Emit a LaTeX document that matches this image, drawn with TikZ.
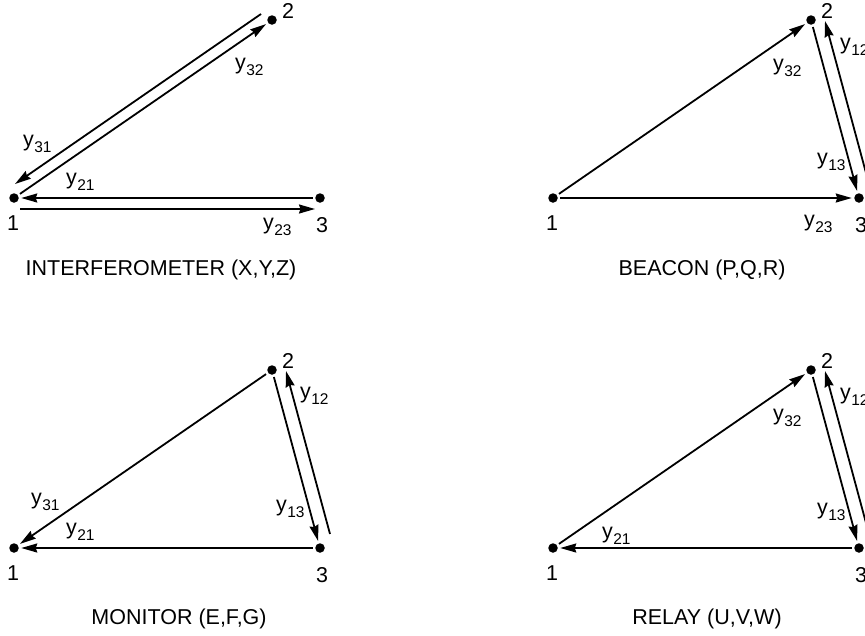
\documentclass[tikz,border=0pt]{standalone}
\usepackage{fontspec}
\setmainfont{Liberation Sans}
\usetikzlibrary{arrows.meta}
\newcommand\ysub[1]{y\kern0.3pt\raisebox{-6.5pt}{\fontsize{15.5}{15.5}\selectfont #1}}
\tikzset{
  dotnode/.style={circle, fill=black, inner sep=0pt, minimum size=9.5pt, outer sep=2.5pt},
  conn/.style={line width=1.8pt, -{Stealth[length=16pt,width=9pt,inset=1.5pt]}},
  lab/.style={anchor=base west, inner sep=0pt, font=\fontsize{21.5}{25}\selectfont},
  num/.style={inner sep=0pt, font=\fontsize{21.5}{25}\selectfont},
  ttl/.style={anchor=base, inner sep=0pt, font=\fontsize{21.5}{25}\selectfont},
}
\begin{document}
\begin{tikzpicture}[x=1pt, y=-1pt]
\useasboundingbox (0,0) rectangle (865,635);
\clip (0,0) rectangle (865,635);

% ---------- INTERFEROMETER ----------
\begin{scope}[shift={(14,198)}]
  \node[dotnode] (a1) at (0,0) {};
  \node[dotnode] (a2) at (258,-178) {};
  \node[dotnode] (a3) at (306,0) {};
  \node[num] (a1t) at (-1,25) {1};
  \node[num] (a2t) at (274,-187) {2};
  \node[num] (a3t) at (308,27) {3};
  \coordinate (a31s) at (247,-184);
  \coordinate (a31e) at (1,-14);
  \coordinate (a23s) at (6,11);
  \coordinate (a23e) at (301,11);
  \draw[conn] (a31s) -- (a31e);
  \draw[conn] (a1) -- (a2);
  \draw[conn] (a3) -- (a1);
  \draw[conn] (a23s) -- (a23e);
  \node[lab] (a31l) at (9,-52) {\ysub{31}};
  \node[lab] (a21l) at (52,-14) {\ysub{21}};
  \node[lab] (a32l) at (221,-129) {\ysub{32}};
  \node[lab] (a23l) at (249,31) {\ysub{23}};
  \node[ttl] (at) at (147,77) {INTERFEROMETER (X,Y,Z)};
\end{scope}

% ---------- BEACON ----------
\begin{scope}[shift={(553,198)}]
  \node[dotnode] (b1) at (0,0) {};
  \node[dotnode] (b2) at (258,-178) {};
  \node[dotnode] (b3) at (306,0) {};
  \node[num] (b1t) at (-1,25) {1};
  \node[num] (b2t) at (274,-187) {2};
  \node[num] (b3t) at (308,27) {3};
  \coordinate (b12s) at (316,-14);
  \coordinate (b12e) at (272,-177);
  \draw[conn] (b1) -- (b2);
  \draw[conn] (b1) -- (b3);
  \draw[conn] (b2) -- (b3);
  \draw[conn] (b12s) -- (b12e);
  \node[lab] (b32l) at (220,-128) {\ysub{32}};
  \node[lab] (b12l) at (287,-149) {\ysub{12}};
  \node[lab] (b13l) at (264,-34) {\ysub{13}};
  \node[lab] (b23l) at (251,28) {\ysub{23}};
  \node[ttl] (bt) at (149,77) {BEACON (P,Q,R)};
\end{scope}

% ---------- MONITOR ----------
\begin{scope}[shift={(14,548)}]
  \node[dotnode] (c1) at (0,0) {};
  \node[dotnode] (c2) at (258,-178) {};
  \node[dotnode] (c3) at (306,0) {};
  \node[num] (c1t) at (-1,25) {1};
  \node[num] (c2t) at (274,-187) {2};
  \node[num] (c3t) at (308,27) {3};
  \coordinate (c12s) at (316,-14);
  \coordinate (c12e) at (272,-177);
  \draw[conn] (c2) -- (c1);
  \draw[conn] (c3) -- (c1);
  \draw[conn] (c2) -- (c3);
  \draw[conn] (c12s) -- (c12e);
  \node[lab] (c31l) at (17,-44) {\ysub{31}};
  \node[lab] (c21l) at (52,-14) {\ysub{21}};
  \node[lab] (c12l) at (286,-150) {\ysub{12}};
  \node[lab] (c13l) at (262,-37) {\ysub{13}};
  \node[ttl] (ct) at (165,76) {MONITOR (E,F,G)};
\end{scope}

% ---------- RELAY ----------
\begin{scope}[shift={(553,548)}]
  \node[dotnode] (d1) at (0,0) {};
  \node[dotnode] (d2) at (258,-178) {};
  \node[dotnode] (d3) at (306,0) {};
  \node[num] (d1t) at (-1,25) {1};
  \node[num] (d2t) at (274,-187) {2};
  \node[num] (d3t) at (308,27) {3};
  \coordinate (d12s) at (316,-14);
  \coordinate (d12e) at (272,-177);
  \draw[conn] (d1) -- (d2);
  \draw[conn] (d3) -- (d1);
  \draw[conn] (d2) -- (d3);
  \draw[conn] (d12s) -- (d12e);
  \node[lab] (d32l) at (220,-128) {\ysub{32}};
  \node[lab] (d21l) at (49,-10) {\ysub{21}};
  \node[lab] (d13l) at (264,-34) {\ysub{13}};
  \node[lab] (d12l) at (287,-149) {\ysub{12}};
  \node[ttl] (dt) at (154,76) {RELAY (U,V,W)};
\end{scope}
\end{tikzpicture}
\end{document}
